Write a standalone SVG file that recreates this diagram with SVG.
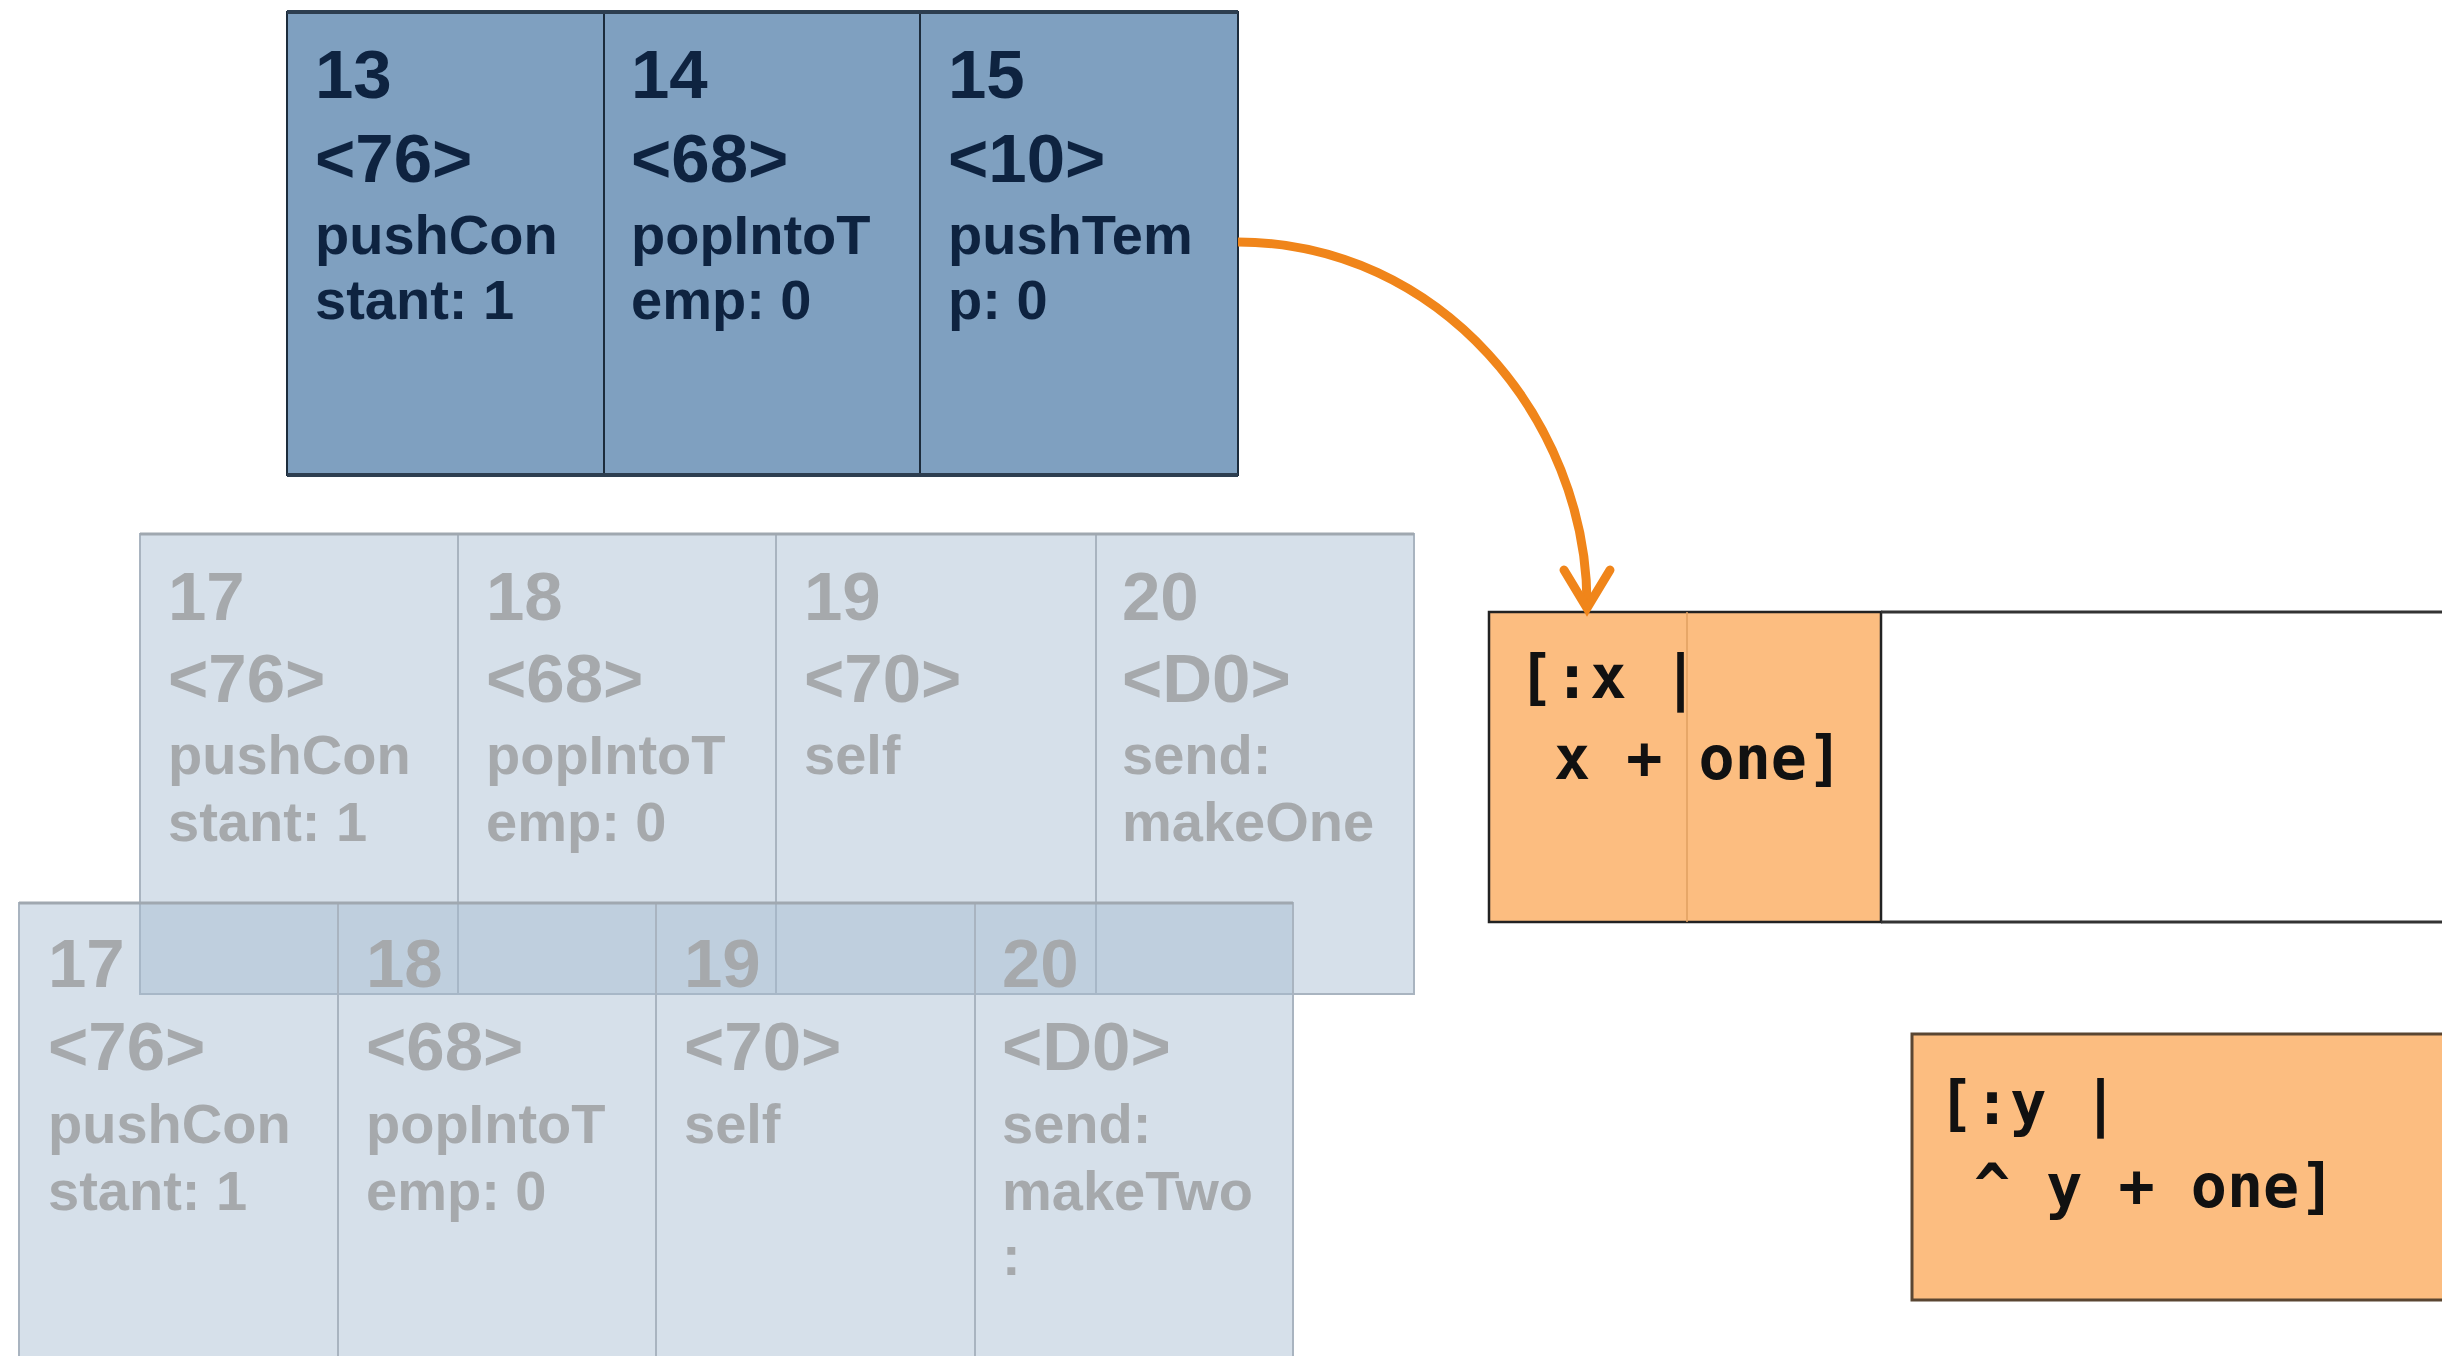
<svg xmlns="http://www.w3.org/2000/svg" width="2442" height="1356" viewBox="0 0 2442 1356">
<style>
.big{font-family:"Liberation Sans",Arial,sans-serif;font-weight:bold;font-size:69px}
.sm{font-family:"Liberation Sans",Arial,sans-serif;font-weight:bold;font-size:56px}
.dark{fill:#0e2340}
.faint{fill:#a6a9ac}
.code{font-family:"DejaVu Sans Mono","Liberation Mono",monospace;font-weight:bold;font-size:60px;fill:#111;white-space:pre}
.topcell{fill:#7fa0c0;stroke:#1c2c3c;stroke-width:2}
.fadecell{fill:#a4bad0;fill-opacity:0.45;stroke:#a9b4c0;stroke-width:2}
.conn{fill:none;stroke:#f0851a;stroke-width:9}
</style>
<rect width="2442" height="1356" fill="#ffffff"/>

<g id="block-top">
<rect class="topcell" x="287" y="12" width="317" height="463"/>
<rect class="topcell" x="604" y="12" width="316" height="463"/>
<rect class="topcell" x="920" y="12" width="318" height="463"/>
<line x1="287" y1="12" x2="1238" y2="12" stroke="#2d3e50" stroke-width="4"/>
<line x1="287" y1="475" x2="1238" y2="475" stroke="#2d3e50" stroke-width="4"/>
<g class="dark">
<text class="big" x="315" y="98">13</text>
<text class="big" x="315" y="182">&lt;76&gt;</text>
<text class="sm" x="315" y="254">pushCon</text>
<text class="sm" x="315" y="319">stant: 1</text>
<text class="big" x="631" y="98">14</text>
<text class="big" x="631" y="182">&lt;68&gt;</text>
<text class="sm" x="631" y="254">popIntoT</text>
<text class="sm" x="631" y="319">emp: 0</text>
<text class="big" x="948" y="98">15</text>
<text class="big" x="948" y="182">&lt;10&gt;</text>
<text class="sm" x="948" y="254">pushTem</text>
<text class="sm" x="948" y="319">p: 0</text>
</g>
</g>

<g id="block-makeOne">
<rect class="fadecell" x="140" y="534" width="318" height="460"/>
<rect class="fadecell" x="458" y="534" width="318" height="460"/>
<rect class="fadecell" x="776" y="534" width="320" height="460"/>
<rect class="fadecell" x="1096" y="534" width="318" height="460"/>
<line x1="140" y1="534" x2="1414" y2="534" stroke="#a0a8b0" stroke-width="3"/>
<g class="faint">
<text class="big" x="168" y="620">17</text>
<text class="big" x="168" y="702">&lt;76&gt;</text>
<text class="sm" x="168" y="774">pushCon</text>
<text class="sm" x="168" y="841">stant: 1</text>
<text class="big" x="486" y="620">18</text>
<text class="big" x="486" y="702">&lt;68&gt;</text>
<text class="sm" x="486" y="774">popIntoT</text>
<text class="sm" x="486" y="841">emp: 0</text>
<text class="big" x="804" y="620">19</text>
<text class="big" x="804" y="702">&lt;70&gt;</text>
<text class="sm" x="804" y="774">self</text>
<text class="big" x="1122" y="620">20</text>
<text class="big" x="1122" y="702">&lt;D0&gt;</text>
<text class="sm" x="1122" y="774">send:</text>
<text class="sm" x="1122" y="841">makeOne</text>
</g>
</g>

<g id="block-makeTwo">
<rect class="fadecell" x="19" y="903" width="319" height="470"/>
<rect class="fadecell" x="338" y="903" width="318" height="470"/>
<rect class="fadecell" x="656" y="903" width="319" height="470"/>
<rect class="fadecell" x="975" y="903" width="318" height="470"/>
<line x1="19" y1="903" x2="1293" y2="903" stroke="#a0a8b0" stroke-width="3"/>
<g class="faint">
<text class="big" x="48" y="987">17</text>
<text class="big" x="48" y="1070">&lt;76&gt;</text>
<text class="sm" x="48" y="1143">pushCon</text>
<text class="sm" x="48" y="1210">stant: 1</text>
<text class="big" x="366" y="987">18</text>
<text class="big" x="366" y="1070">&lt;68&gt;</text>
<text class="sm" x="366" y="1143">popIntoT</text>
<text class="sm" x="366" y="1210">emp: 0</text>
<text class="big" x="684" y="987">19</text>
<text class="big" x="684" y="1070">&lt;70&gt;</text>
<text class="sm" x="684" y="1143">self</text>
<text class="big" x="1002" y="987">20</text>
<text class="big" x="1002" y="1070">&lt;D0&gt;</text>
<text class="sm" x="1002" y="1143">send:</text>
<text class="sm" x="1002" y="1210">makeTwo</text>
<text class="sm" x="1002" y="1275">:</text>
</g>
</g>

<g id="block-x">
<rect x="1489" y="612" width="392" height="310" fill="#fcbd80" stroke="#222" stroke-width="2.5"/>
<line x1="1687" y1="612" x2="1687" y2="922" stroke="#e0a060" stroke-width="1.5"/>
<line x1="1881" y1="612" x2="2442" y2="612" stroke="#333" stroke-width="3"/>
<line x1="1881" y1="922" x2="2442" y2="922" stroke="#333" stroke-width="3"/>
<text class="code" x="1518" y="698">[:x |</text>
<text class="code" x="1518" y="779"> x + one]</text>
</g>

<g id="block-y">
<rect x="1912" y="1034" width="560" height="266" fill="#fcbd80" stroke="#5a4632" stroke-width="3"/>
<text class="code" x="1938" y="1124">[:y |</text>
<text class="code" x="1938" y="1207"> ^ y + one]</text>
</g>

<g id="connectors">
<path class="conn" d="M1238,242 C1440,242 1587,420 1587,604"/>
<path class="conn" d="M1564,570 L1587,608 L1610,570" stroke-linejoin="miter" stroke-linecap="round"/>
</g>
</svg>
